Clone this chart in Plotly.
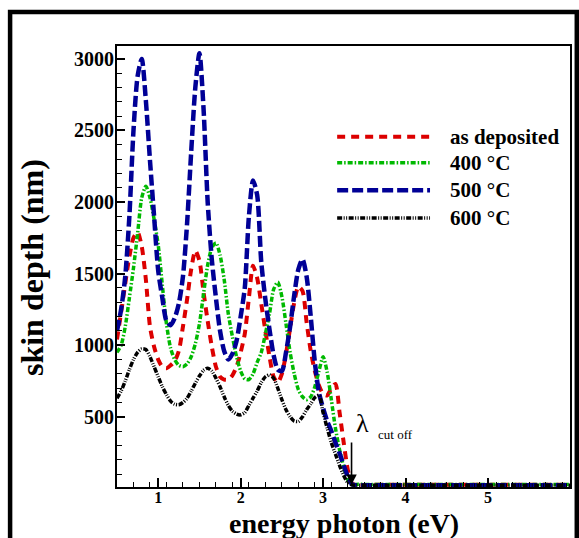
import plotly.graph_objects as go

# ---------------- data ----------------
energy_ev = [0.50, 0.55, 0.60, 0.65, 0.70, 0.75, 0.80, 0.85, 0.90, 0.95,
             1.00, 1.05, 1.10, 1.15, 1.20, 1.25, 1.30, 1.35, 1.40, 1.45,
             1.50, 1.55, 1.60, 1.65, 1.70, 1.75, 1.80, 1.85, 1.90, 1.95,
             2.00, 2.05, 2.10, 2.15, 2.20, 2.25, 2.30, 2.35, 2.40, 2.45,
             2.50, 2.55, 2.60, 2.65, 2.70, 2.75, 2.80, 2.85, 2.90, 2.95,
             3.00, 3.05, 3.10, 3.15, 3.20, 3.25, 3.30, 3.35,
             3.40, 3.60, 3.80, 4.00, 4.20, 4.40, 4.60, 4.80, 5.00, 5.20,
             5.40, 5.60, 5.80, 6.00]

skin_as_deposited = [1040, 1230, 1430, 1620, 1750, 1790, 1690, 1460, 1130, 990,
                     900, 850, 840, 860, 890, 960, 1130, 1320, 1530, 1660,
                     1590, 1370, 1170, 990, 850, 780, 760, 760, 790, 850,
                     950, 1080, 1330, 1555, 1470, 1290, 1100, 920, 780, 740,
                     800, 940, 1120, 1300, 1410, 1380, 1160, 960, 820, 720,
                     660, 650, 700, 730, 530, 320, 130, 35,
                     25, 25, 25, 25, 25, 25, 25, 25, 25, 25,
                     25, 25, 25, 25]

skin_400C = [950, 1000, 1130, 1330, 1540, 1780, 2030, 2110, 2030, 1880,
             1700, 1420, 1150, 980, 900, 860, 850, 870, 920, 1010,
             1150, 1360, 1560, 1680, 1715, 1630, 1460, 1220, 1060, 920,
             820, 765, 760, 800, 880, 950, 1080, 1220, 1390, 1440,
             1340, 1150, 950, 800, 690, 640, 620, 640, 710, 820,
             920, 810, 620, 420, 270, 150, 60, 25,
             28, 28, 28, 28, 28, 28, 28, 28, 28, 28,
             28, 28, 28, 28]

skin_500C = [1100, 1250, 1480, 1900, 2500, 2880, 3000, 2710, 2290, 1900,
             1520, 1330, 1170, 1140, 1190, 1290, 1480, 1850, 2350, 2800,
             3040, 2650, 2000, 1600, 1330, 1100, 960, 900, 940, 1030,
             1200, 1400, 1900, 2150, 2050, 1580, 1320, 1110, 930, 830,
             820, 950, 1130, 1350, 1530, 1600, 1480, 1200, 880, 670,
             560, 470, 400, 320, 246, 160, 83, 30,
             22, 22, 22, 22, 22, 22, 22, 22, 22, 22,
             22, 22, 22, 22]

skin_600C = [630, 680, 750, 830, 900, 950, 975, 970, 920, 850,
             780, 710, 655, 610, 588, 585, 600, 630, 680, 735,
             785, 825, 840, 820, 770, 710, 640, 580, 540, 520,
             514, 530, 580, 630, 680, 740, 780, 793, 770, 700,
             620, 550, 500, 470, 468, 500, 550, 590, 635, 650,
             530, 420, 320, 240, 160, 90, 40, 25,
             22, 22, 22, 22, 22, 22, 22, 22, 22, 22,
             22, 22, 22, 22]

series_names = ["as deposited", "400 °C", "500 °C", "600 °C"]
series_values = [skin_as_deposited, skin_400C, skin_500C, skin_600C]

x_major_ticks = [1, 2, 3, 4, 5]
y_major_ticks = [500, 1000, 1500, 2000, 2500, 3000]
x_title = "energy photon (eV)"
y_title = "skin depth (nm)"
cutoff_energy = 3.345

# ---------------- styles ----------------
styles = [
    dict(color="rgb(220,0,0)", width=4, dash="8px,6px"),
    dict(color="rgb(0,185,0)", width=3.5, dash="5px,2px,1.5px,2px"),
    dict(color="rgb(0,0,150)", width=4.5, dash="11px,4px"),
    dict(color="rgb(0,0,0)", width=3.5, dash="5px,1.5px,1px,1.5px,1px,1.5px"),
]

FONT = "Liberation Serif"

fig = go.Figure()
for name, vals, st in zip(series_names, series_values, styles):
    fig.add_trace(go.Scatter(
        x=energy_ev, y=vals, name=name, mode="lines",
        line=dict(color=st["color"], width=st["width"], dash=st["dash"],
                  shape="spline", smoothing=0.7),
        showlegend=False,
    ))

# ---------------- custom legend (long line samples like the original) ----------------
legend_rows_y = [0.794, 0.735, 0.673, 0.610]
shapes = []
annotations = []
for name, st, yy in zip(series_names, styles, legend_rows_y):
    shapes.append(dict(type="line", xref="paper", yref="paper",
                       x0=0.486, x1=0.691, y0=yy, y1=yy,
                       line=dict(color=st["color"], width=st["width"], dash=st["dash"])))
    annotations.append(dict(xref="paper", yref="paper", x=0.730, y=yy,
                            text=name, showarrow=False, xanchor="left", yanchor="middle",
                            font=dict(family=FONT, size=21, color="black", weight="bold")))

# outer thick frame
shapes.append(dict(type="rect", xref="paper", yref="paper",
                   x0=-0.236, x1=1.015, y0=-0.25, y1=1.077,
                   line=dict(color="black", width=4.5), fillcolor="rgba(0,0,0,0)",
                   layer="above"))

# axis titles
annotations.append(dict(xref="paper", yref="paper", x=0.5, y=-0.082,
                        text=x_title, showarrow=False, xanchor="center", yanchor="middle",
                        font=dict(family=FONT, size=28, color="black", weight="bold")))
annotations.append(dict(xref="paper", yref="paper", x=-0.1876, y=0.4966,
                        text=y_title, showarrow=False, textangle=-90,
                        xanchor="center", yanchor="middle",
                        font=dict(family=FONT, size=32, color="black", weight="bold")))

# cut-off arrow and label
annotations.append(dict(x=cutoff_energy, y=25, xref="x", yref="y",
                        ax=cutoff_energy, ay=331, axref="x", ayref="y",
                        text="", showarrow=True, arrowhead=2, arrowsize=1.3,
                        arrowwidth=1.6, arrowcolor="black"))
annotations.append(dict(x=3.48, y=455, xref="x", yref="y", text="λ",
                        showarrow=False, xanchor="center", yanchor="middle",
                        font=dict(family=FONT, size=26, color="black")))
annotations.append(dict(x=3.88, y=380, xref="x", yref="y", text="cut off",
                        showarrow=False, xanchor="center", yanchor="middle",
                        font=dict(family=FONT, size=13, color="black")))

fig.update_layout(
    width=579, height=538,
    margin=dict(l=117, r=9, t=46, b=51),
    paper_bgcolor="white", plot_bgcolor="white",
    font=dict(family=FONT, color="black"),
    shapes=shapes, annotations=annotations,
    showlegend=False,
)

fig.update_xaxes(
    range=[0.5, 5.995], tickmode="array", tickvals=x_major_ticks, automargin=False,
    ticks="inside", ticklen=9, tickwidth=1.5, tickcolor="black",
    showline=True, linecolor="black", linewidth=2, mirror=True,
    showgrid=False, zeroline=False, ticklabelstandoff=-5,
    tickfont=dict(family=FONT, size=16, color="black", weight="bold"),
    minor=dict(tickmode="linear", tick0=0.5, dtick=0.2, ticks="inside", ticklen=5,
               tickwidth=1, tickcolor="black", showgrid=False),
)
fig.update_yaxes(
    range=[10, 3090], tickmode="array", tickvals=y_major_ticks, automargin=False,
    ticks="inside", ticklen=8, tickwidth=1.5, tickcolor="black",
    showline=True, linecolor="black", linewidth=2, mirror=True,
    showgrid=False, zeroline=False, ticklabelstandoff=-3,
    tickfont=dict(family=FONT, size=20, color="black", weight="bold"),
    minor=dict(tickmode="linear", tick0=0, dtick=100, ticks="inside", ticklen=5,
               tickwidth=1, tickcolor="black", showgrid=False),
)

fig.write_html("out.html", config={"displayModeBar": False},
               post_script="document.body.style.margin='0px';document.body.style.overflow='hidden';")
